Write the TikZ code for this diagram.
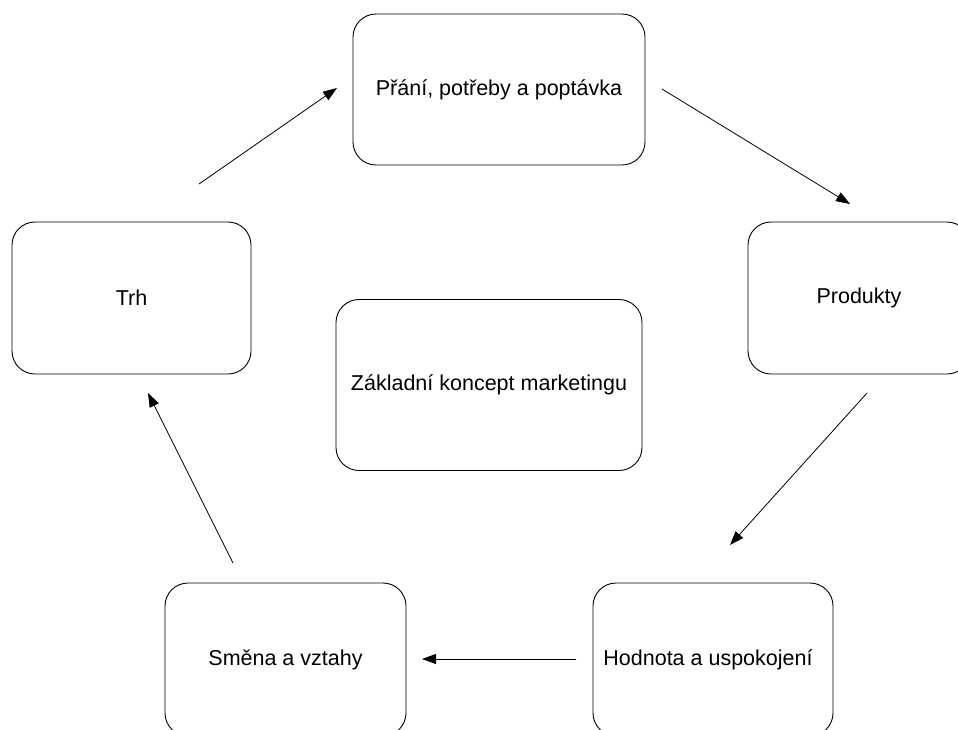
\documentclass[tikz,border=0pt]{standalone}
\usepackage{fontspec}
\setmainfont{Liberation Sans}
\usetikzlibrary{arrows.meta}

\tikzset{
  conceptbox/.style={draw=black, line width=0.9pt, rounded corners=23pt,
    inner sep=0pt, font=\fontsize{21.5}{26}\selectfont, align=center},
  flow/.style={draw=black, line width=0.8pt,
    -{Triangle[length=14pt,width=10pt]}}
}

\begin{document}
\begin{tikzpicture}[x=1pt, y=-1pt]
  \useasboundingbox (0,0) rectangle (958,729);
  \clip (0,0) rectangle (958,729);

  % boxes of the cycle and the central concept
  \node[conceptbox, minimum width=292pt, minimum height=151pt] (prani)   at (499,89.5)  {Přání, potřeby a poptávka};
  \node[conceptbox, minimum width=222pt, minimum height=152pt] (produkty) at (859,298)  {Produkty};
  \node[conceptbox, minimum width=240pt, minimum height=153pt] (hodnota) at (713,659.5) {\hspace*{-10pt}Hodnota a uspokojení};
  \node[conceptbox, minimum width=241pt, minimum height=153pt] (smena)   at (285.5,659.5) {Směna a vztahy};
  \node[conceptbox, minimum width=239pt, minimum height=152pt] (trh)     at (131.5,298) {Trh};
  \node[conceptbox, minimum width=306pt, minimum height=171pt] (stred)   at (489,385)   {Základní koncept marketingu};

  % arrow ends, kept clear of the boxes
  \coordinate (trhOut)      at (199,184);
  \coordinate (praniIn)     at (337,88);
  \coordinate (praniOut)    at (662,89);
  \coordinate (produktyIn)  at (850,204);
  \coordinate (produktyOut) at (867,393);
  \coordinate (hodnotaIn)   at (730,545);
  \coordinate (hodnotaOut)  at (576,659);
  \coordinate (smenaIn)     at (422,659);
  \coordinate (smenaOut)    at (233,563);
  \coordinate (trhIn)       at (148,393);

  % the cycle
  \draw[flow] (trhOut) -- (praniIn);
  \draw[flow] (praniOut) -- (produktyIn);
  \draw[flow] (produktyOut) -- (hodnotaIn);
  \draw[flow] (hodnotaOut) -- (smenaIn);
  \draw[flow] (smenaOut) -- (trhIn);
\end{tikzpicture}
\end{document}
